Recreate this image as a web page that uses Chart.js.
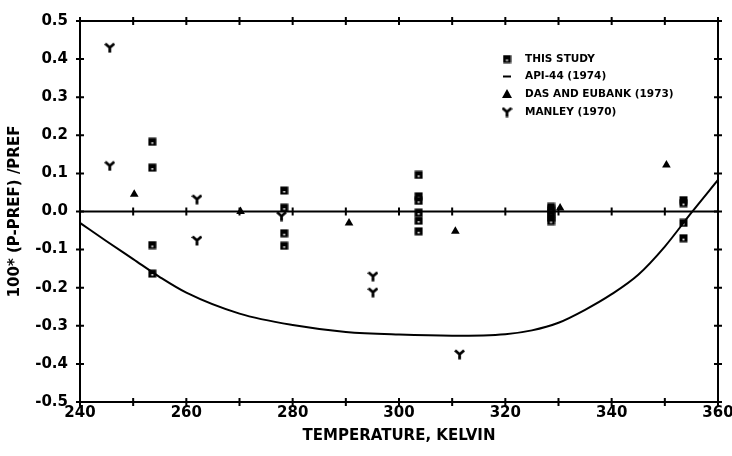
<!DOCTYPE html>
<html lang="en">
<head>
<meta charset="UTF-8">
<title>Vapor pressure deviation</title>
<script src="https://cdn.jsdelivr.net/npm/chart.js"></script>
<style>
  html, body { margin: 0; padding: 0; background: #fff; }
  #wrap { width: 732px; height: 456px; }
</style>
</head>
<body>
<div id="wrap"><canvas id="myChart"></canvas></div>
<script>
// THIS STUDY (squares)
const studyT   = [253.6, 253.6, 253.6, 253.6,
                  278.4, 278.4, 278.4, 278.4,
                  303.7, 303.7, 303.7, 303.7, 303.7, 303.7,
                  328.6, 328.6, 328.6, 328.6, 328.6,
                  353.5, 353.5, 353.5, 353.5];
const studyDev = [0.183, 0.115, -0.088, -0.163,
                  0.055, 0.010, -0.057, -0.090,
                  0.096, 0.040, 0.028, -0.003, -0.024, -0.052,
                  0.012, 0.004, -0.006, -0.016, -0.025,
                  0.030, 0.022, -0.030, -0.070];

// DAS AND EUBANK (1973) (triangles)
const dasT   = [250.2, 270.2, 290.6, 310.6, 330.3, 350.3];
const dasDev = [0.045, 0.000, -0.030, -0.052, 0.009, 0.122];

// MANLEY (1970) (Y symbols)
const manT   = [245.6, 245.6, 262.0, 262.0, 277.9, 295.1, 295.1, 311.4];
const manDev = [0.430, 0.120, 0.032, -0.076, -0.012, -0.170, -0.212, -0.375];

// API-44 (1974) (curve)
const apiT   = [240, 245, 250, 255, 260, 270, 280, 290, 300, 310, 320, 325, 330, 335, 340, 345, 350, 355, 360];
const apiDev = [-0.030, -0.078, -0.125, -0.172, -0.213, -0.268, -0.298, -0.316, -0.323, -0.326, -0.322, -0.312, -0.292, -0.258, -0.217, -0.166, -0.092, -0.003, 0.083];

const legendLabels = ['THIS STUDY', 'API-44 (1974)', 'DAS AND EUBANK (1973)', 'MANLEY (1970)'];
const xTitle = 'TEMPERATURE, KELVIN';
const yTitle = '100* (P-PREF) /PREF';

const FONT = '"DejaVu Sans", sans-serif';

function pairs(xs, ys) {
  return xs.map((x, i) => ({ x: x, y: ys[i] }));
}

// marker images
function squareMark() {
  const c = document.createElement('canvas');
  c.width = 9; c.height = 9;
  const g = c.getContext('2d');
  g.fillStyle = '#000';
  g.fillRect(0.5, 0.5, 8, 8);
  g.fillStyle = '#fff';
  g.fillRect(3.5, 5, 2, 1.5);
  return c;
}
function yMark() {
  const c = document.createElement('canvas');
  c.width = 11; c.height = 11;
  const g = c.getContext('2d');
  g.strokeStyle = '#000';
  g.lineWidth = 2.8;
  g.beginPath();
  g.moveTo(1, 1.5); g.lineTo(5.5, 5.5); g.lineTo(10, 1.5);
  g.moveTo(5.5, 5); g.lineTo(5.5, 10.5);
  g.stroke();
  return c;
}
const sqImg = squareMark();
const yImg = yMark();

// frame, ticks on all sides, zero line, legend
const framePlugin = {
  id: 'frame',
  afterDraw(chart) {
    const { ctx, chartArea: a, scales: { x, y } } = chart;
    ctx.save();
    ctx.strokeStyle = '#000';
    ctx.lineWidth = 2;
    ctx.strokeRect(a.left, a.top, a.right - a.left, a.bottom - a.top);

    // zero line
    const y0 = y.getPixelForValue(0);
    ctx.beginPath();
    ctx.moveTo(a.left, y0); ctx.lineTo(a.right, y0);
    ctx.stroke();

    ctx.lineWidth = 2;
    ctx.beginPath();
    x.ticks.forEach(t => {
      const px = x.getPixelForValue(t.value);
      ctx.moveTo(px, a.bottom - 4); ctx.lineTo(px, a.bottom + 4);
      ctx.moveTo(px, a.top - 4); ctx.lineTo(px, a.top + 4);
      ctx.moveTo(px, y0 - 4); ctx.lineTo(px, y0 + 4);
    });
    y.ticks.forEach(t => {
      const py = y.getPixelForValue(t.value);
      ctx.moveTo(a.left - 4, py); ctx.lineTo(a.left + 4, py);
      ctx.moveTo(a.right - 4, py); ctx.lineTo(a.right + 4, py);
    });
    ctx.stroke();

    // legend
    const mx = a.left + 427, tx = a.left + 445;
    const ry = [a.top + 38, a.top + 55.5, a.top + 73, a.top + 91];
    ctx.fillStyle = '#000';
    ctx.font = 'bold 10.5px ' + FONT;
    ctx.textBaseline = 'middle';
    ctx.textAlign = 'left';
    legendLabels.forEach((lab, i) => ctx.fillText(lab, tx, ry[i]));
    ctx.drawImage(sqImg, mx - 4.5, ry[0] - 4.5);
    ctx.lineWidth = 2;
    ctx.beginPath();
    ctx.moveTo(mx - 4, ry[1]); ctx.lineTo(mx + 4, ry[1]);
    ctx.stroke();
    ctx.beginPath();
    ctx.moveTo(mx, ry[2] - 5); ctx.lineTo(mx + 5, ry[2] + 4); ctx.lineTo(mx - 5, ry[2] + 4);
    ctx.closePath();
    ctx.fill();
    ctx.drawImage(yImg, mx - 5.5, ry[3] - 5.5);
    ctx.restore();
  }
};

const config = {
  type: 'scatter',
  data: {
    datasets: [
      {
        label: legendLabels[1],
        data: pairs(apiT, apiDev),
        showLine: true,
        borderColor: '#000',
        borderWidth: 2,
        pointRadius: 0,
        cubicInterpolationMode: 'monotone',
        fill: false
      },
      {
        label: legendLabels[0],
        data: pairs(studyT, studyDev),
        pointStyle: sqImg,
        backgroundColor: '#000',
        borderColor: '#000'
      },
      {
        label: legendLabels[2],
        data: pairs(dasT, dasDev),
        pointStyle: 'triangle',
        pointRadius: 5,
        backgroundColor: '#000',
        borderColor: '#000',
        borderWidth: 0
      },
      {
        label: legendLabels[3],
        data: pairs(manT, manDev),
        pointStyle: yImg,
        backgroundColor: '#000',
        borderColor: '#000'
      }
    ]
  },
  options: {
    responsive: true,
    maintainAspectRatio: false,
    animation: false,
    layout: { padding: { top: 18, right: 14, left: 0, bottom: 0 } },
    plugins: {
      legend: { display: false },
      tooltip: { enabled: false }
    },
    scales: {
      x: {
        type: 'linear',
        min: 240, max: 360,
        afterFit: s => { s.height = 54; s.paddingRight = 0; s.paddingLeft = 0; },
        ticks: {
          stepSize: 10,
          padding: 2,
          color: '#000',
          font: { family: FONT, size: 15, weight: 'bold' },
          maxRotation: 0,
          autoSkip: false,
          callback: v => (v % 20 === 0 ? String(v) : '')
        },
        grid: { display: false, drawTicks: false },
        border: { display: false },
        title: {
          display: true,
          text: xTitle,
          color: '#000',
          font: { family: FONT, size: 15, weight: 'bold' },
          padding: { top: 0, bottom: 11 }
        }
      },
      y: {
        min: -0.5, max: 0.5,
        afterFit: s => { s.width = 80; },
        ticks: {
          stepSize: 0.1,
          padding: 12,
          color: '#000',
          font: { family: FONT, size: 15, weight: 'bold' },
          callback: v => v.toFixed(1)
        },
        grid: { display: false, drawTicks: false },
        border: { display: false },
        title: {
          display: true,
          text: yTitle,
          color: '#000',
          font: { family: FONT, size: 15, weight: 'bold' },
          padding: { top: 6, bottom: 0 }
        }
      }
    }
  },
  plugins: [framePlugin]
};

const context = document.getElementById('myChart').getContext('2d');
const myChart = new Chart(context, config);
</script>
</body>
</html>
